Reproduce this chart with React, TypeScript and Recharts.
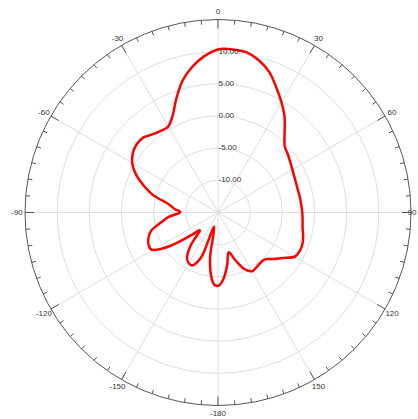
import React from "react";
import {
  RadarChart,
  Radar,
  PolarGrid,
  PolarAngleAxis,
  PolarRadiusAxis,
} from "recharts";

// bearing of each sample, clockwise from the top (0 .. 175, then -180 .. -5)
const angles = [
  0, 5, 10, 15, 20, 25, 30, 35, 40, 45, 50, 55, 60, 65, 70, 75, 80, 85,
  90, 95, 100, 105, 110, 115, 120, 125, 130, 135, 140, 145, 150, 155, 160, 165, 170, 175,
  -180, -175, -170, -165, -160, -155, -150, -145, -140, -135, -130, -125, -120, -115, -110, -105, -100, -95,
  -90, -85, -80, -75, -70, -65, -60, -55, -50, -45, -40, -35, -30, -25, -20, -15, -10, -5,
];

// gain in dB at each bearing
const gain = [
  10.35, 10.45, 10.3, 9.5, 8.25, 6.45, 4.75, 3.05, 1.1, -0.35, -0.85, -1.3, -1.65, -1.9, -2.05, -2.1, -2.05, -2.0,
  -1.9, -1.8, -1.65, -1.3, -1.0, -0.95, -1.25, -2.7, -3.75, -4.7, -4.75, -4.6, -4.45, -5.3, -7.1, -8.6, -6.75, -4.75,
  -3.6, -4.45, -7.9, -12.7, -8.0, -6.0, -5.9, -6.6, -8.5, -11.0, -9.4, -6.0, -3.35, -3.1, -3.5, -4.3, -6.0, -7.3,
  -9.1, -8.15, -7.1, -4.6, -2.7, -0.9, 0.4, 1.15, 1.5, 1.45, 0.85, 0.5, 0.45, 1.65, 3.9, 6.25, 8.0, 9.4,
];

const radiusTicks = [-10, -5, 0, 5, 10];

const data = angles.map((a, i) => ({ angle: String(a), gain: gain[i] }));

const W = 418;
const H = 419;
const CX = 218;
const CY = 212.5;
const OUTER = 193;
const RAD = Math.PI / 180;
const FONT = "Liberation Sans, Arial, sans-serif";

// closed Catmull-Rom path through the radar points
const smoothPath = (pts: { x: number; y: number }[]) => {
  const n = pts.length;
  if (!n) return "";
  let d = `M${pts[0].x},${pts[0].y}`;
  for (let i = 0; i < n; i++) {
    const p0 = pts[(i - 1 + n) % n];
    const p1 = pts[i];
    const p2 = pts[(i + 1) % n];
    const p3 = pts[(i + 2) % n];
    const c1x = p1.x + (p2.x - p0.x) / 6;
    const c1y = p1.y + (p2.y - p0.y) / 6;
    const c2x = p2.x - (p3.x - p1.x) / 6;
    const c2y = p2.y - (p3.y - p1.y) / 6;
    d += ` C${c1x},${c1y} ${c2x},${c2y} ${p2.x},${p2.y}`;
  }
  return d + "Z";
};

const PatternShape = (props: any) => (
  <path
    d={smoothPath(props.points || [])}
    fill="none"
    stroke="#ff0000"
    strokeWidth={2.5}
    strokeLinejoin="round"
  />
);

const AngleTick = (props: any) => {
  const { payload } = props;
  const deg = payload.coordinate;
  const cos = Math.cos(-deg * RAD);
  const sin = Math.sin(-deg * RAD);
  const val = Number(payload.value);
  const major = val % 30 === 0;
  const len = major ? 9 : 4.5;
  let lx = CX + cos * (OUTER + 8);
  const ly = CY + sin * (OUTER + 8);
  // keep the right-hand label inside the frame
  lx = Math.min(lx, W - 6);
  return (
    <g>
      <line
        x1={CX + cos * OUTER}
        y1={CY + sin * OUTER}
        x2={CX + cos * (OUTER - len)}
        y2={CY + sin * (OUTER - len)}
        stroke="#555"
        strokeWidth={1}
      />
      {major && (
        <text
          x={lx}
          y={ly}
          textAnchor="middle"
          dominantBaseline="central"
          fontSize={8}
          fontFamily={FONT}
          fill="#333"
        >
          {val}
        </text>
      )}
    </g>
  );
};

const RadiusTick = (props: any) => {
  const { x, y, payload } = props;
  return (
    <text
      x={x + 0.5}
      y={y + 2}
      textAnchor="start"
      fontSize={8}
      fontFamily={FONT}
      fill="#333"
    >
      {Number(payload.value).toFixed(2)}
    </text>
  );
};

export default function App() {
  return (
    <div style={{ position: "absolute", left: 0, top: 0, width: W, height: H, background: "#fff" }}>
      <RadarChart
        width={W}
        height={H}
        data={data}
        cx={CX}
        cy={CY}
        outerRadius={OUTER}
        margin={{ top: 0, right: 0, bottom: 0, left: 0 }}
      >
        <PolarGrid
          gridType="circle"
          stroke="#dedede"
          polarAngles={[90, 60, 30, 0, -30, -60, -90, -120, -150, -180, -210, -240]}
        />
        <PolarAngleAxis
          dataKey="angle"
          axisLineType="circle"
          axisLine={{ stroke: "#555" }}
          tickLine={false}
          tick={<AngleTick />}
        />
        <PolarRadiusAxis
          type="number"
          angle={90}
          domain={[-15, 15]}
          ticks={radiusTicks}
          axisLine={false}
          tickLine={false}
          tick={<RadiusTick />}
        />
        <Radar
          dataKey="gain"
          stroke="#ff0000"
          strokeWidth={2.5}
          fill="none"
          fillOpacity={0}
          dot={false}
          shape={<PatternShape />}
          isAnimationActive={false}
        />
      </RadarChart>
    </div>
  );
}
